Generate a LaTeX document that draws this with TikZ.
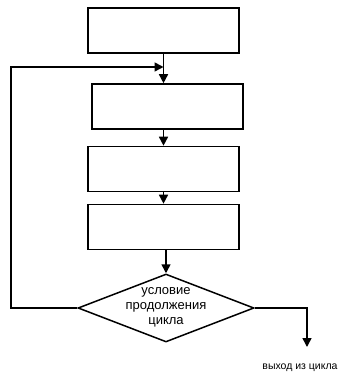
\documentclass[tikz,border=0pt]{standalone}
\usepackage{fontspec}
\setmainfont{Liberation Sans}
\usetikzlibrary{arrows.meta,shapes.geometric,calc}
\begin{document}
\begin{tikzpicture}[x=1pt,y=-1pt,
  blk/.style={draw,line width=1.6pt,minimum width=151pt,minimum height=45pt,inner sep=0pt},
  cond/.style={draw,diamond,line width=1.5pt,minimum width=176pt,minimum height=68pt,inner sep=0pt,aspect=2.6},
  conn/.style={line width=1.5pt,-{Triangle[length=9pt,width=9pt]}},
  lbl/.style={font=\fontsize{13}{15}\selectfont,align=center,inner sep=0pt}]
\useasboundingbox (0,0) rectangle (337,374);
\node[blk] (b1) at (163.5,30.5) {};
\node[blk] (b2) at (167.5,106.5) {};
\node[blk] (b3) at (163.5,169) {};
\node[blk] (b4) at (163.5,227) {};
\node[cond] (d) at (166,308) {};
\node[lbl] (dt) at (166,307) {условие\\продолжения\\цикла};
\coordinate (j) at (b1.south |- 0,67);
\draw[conn] (b1.south) -- (b1.south |- b2.north);
\draw[conn] (b1.south |- b2.south) -- (b1.south |- b3.north);
\draw[conn] (b3.south) -- (b4.north);
\draw[conn] (b4.south -| d.north) -- (d.north);
\coordinate (lc) at (11,308);
\coordinate (lt) at (11,67);
\draw[conn] (d.west) -- (lc) -- (lt) -- (j);
\coordinate (ec) at (307,308);
\coordinate (ee) at (307,347);
\draw[conn] (d.east) -- (ec) -- (ee);
\node[font=\fontsize{10.5}{12}\selectfont,inner sep=0pt] (ex) at (300,368) {выход из цикла};
\end{tikzpicture}
\end{document}
